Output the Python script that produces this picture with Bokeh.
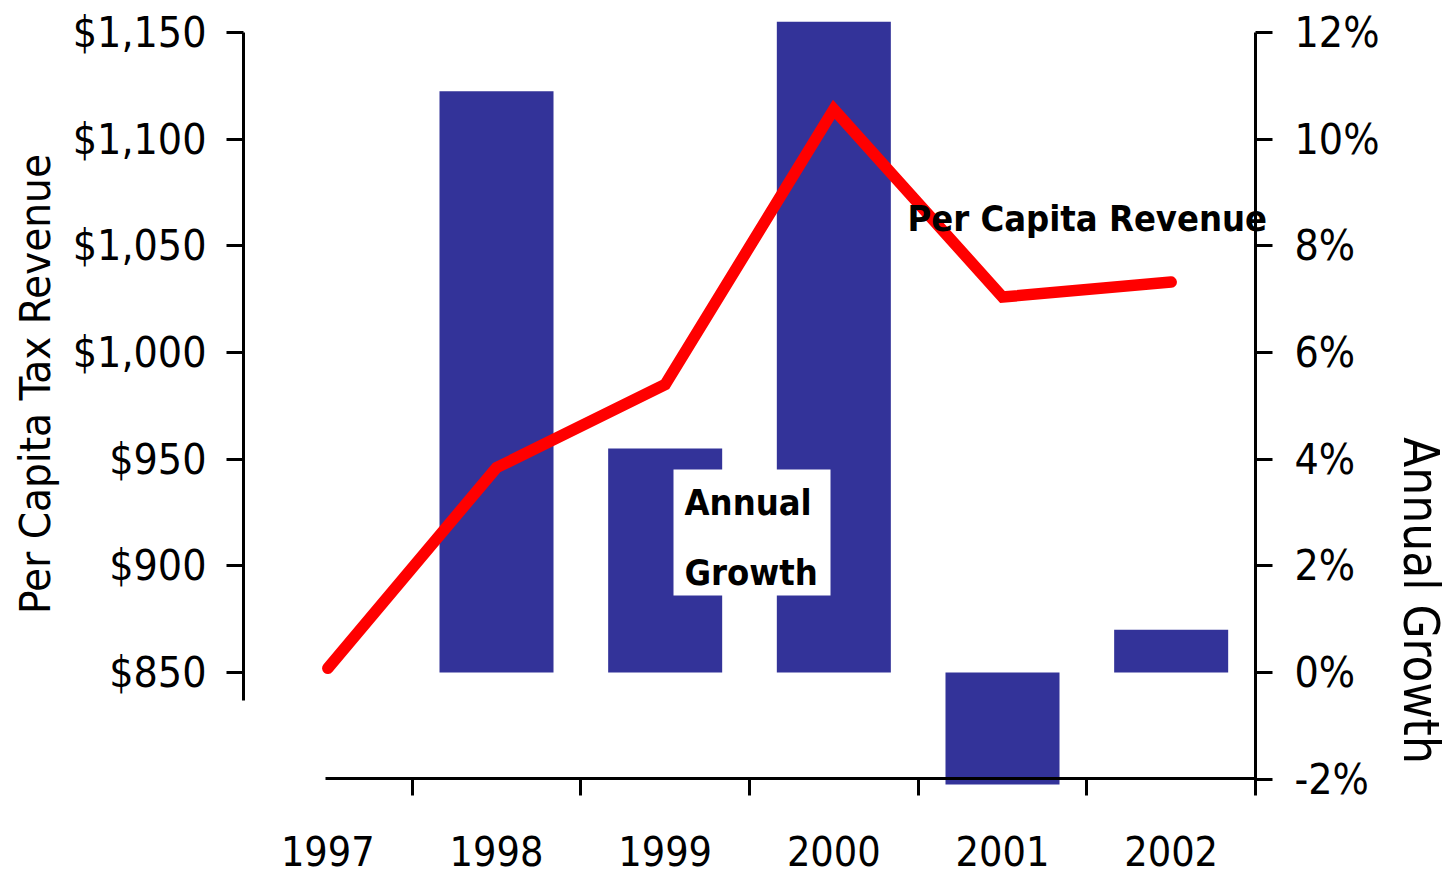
import math
from bokeh.plotting import figure
from bokeh.models import (Range1d, LinearAxis, FixedTicker, NumeralTickFormatter,
                          PrintfTickFormatter, Label, BoxAnnotation)
from bokeh.embed import file_html
from bokeh.resources import INLINE

# ---------------- data ----------------
years = ["1997", "1998", "1999", "2000", "2001", "2002"]
revenue = [852, 946, 985, 1114, 1026, 1033]          # per capita tax revenue ($)
growth_years = ["1998", "1999", "2000", "2001", "2002"]
growth = [10.9, 4.2, 12.2, -2.1, 0.8]                  # annual growth (%)
revenue_ticks = [850, 900, 950, 1000, 1050, 1100, 1150]
growth_ticks = [-2, 0, 2, 4, 6, 8, 10, 12]

# ---------------- layout (pixel geometry of the page) ----------------
W, H = 1450, 876
AX_L, AX_R = 243, 1255               # left / right value axes (px)
PPD = 640.0 / 300.0                  # px per dollar
PPP = 640.0 / 12.0                   # px per percent
Y_ZERO = 672                         # px of $850 / 0%
PPC = (AX_R - AX_L) / len(years)     # px per category

def px2x(px):
    return (px - AX_L) / PPC

def py2y(py):
    return 850 + (Y_ZERO - py) / PPD

def py2g(py):
    return (Y_ZERO - py) / PPP

xs = [i + 0.5 for i in range(len(years))]
gx = [years.index(y) + 0.5 for y in growth_years]

FONT = "DejaVu Sans Condensed, DejaVu Sans, sans-serif"

p = figure(width=W, height=H, output_backend="svg", toolbar_location=None,
           x_range=Range1d(px2x(0), px2x(W)), y_range=Range1d(py2y(H), py2y(0)),
           x_axis_location=None, y_axis_location=None, min_border=0)
p.extra_y_ranges = {"growth": Range1d(py2g(H), py2g(0))}
p.grid.visible = False
p.outline_line_color = None
p.background_fill_color = "white"
p.border_fill_color = "white"

# bars (annual growth)
p.vbar(x=gx, top=growth, bottom=0, width=0.676, y_range_name="growth",
       fill_color="#333399", line_color=None)

# line (per capita revenue)
p.line(x=xs, y=revenue, line_color="#FF0000", line_width=11.5,
       line_cap="round", line_join="miter")

def style_axis(ax, size):
    ax.axis_line_width = 3
    ax.axis_line_color = "black"
    ax.major_tick_line_width = 3
    ax.major_tick_line_color = "black"
    ax.major_tick_out = 17
    ax.major_tick_in = 0
    ax.minor_tick_line_color = None
    ax.major_label_text_font = FONT
    ax.major_label_text_font_size = size
    ax.major_label_text_color = "black"

# left axis
yl = LinearAxis(ticker=FixedTicker(ticks=revenue_ticks),
                formatter=NumeralTickFormatter(format="$0,0"),
                fixed_location=0, bounds=(py2y(700), 1150))
style_axis(yl, "42.5px")
yl.major_label_standoff = 20
p.add_layout(yl, "left")

# right axis
yr = LinearAxis(y_range_name="growth", ticker=FixedTicker(ticks=growth_ticks),
                formatter=PrintfTickFormatter(format="%d%%"),
                fixed_location=len(years), bounds=(-2, 12))
style_axis(yr, "42.5px")
yr.major_label_standoff = 22
p.add_layout(yr, "right")

# x axis: labels at category centers, ticks at category boundaries
xa = LinearAxis(ticker=FixedTicker(ticks=xs, minor_ticks=[i + 1 for i in range(len(years))]),
                major_label_overrides={x: y for x, y in zip(xs, years)},
                fixed_location=py2y(778), bounds=(px2x(325), len(years)))
style_axis(xa, "41px")
xa.major_tick_line_color = None
xa.major_tick_out = 0
xa.minor_tick_line_color = "black"
xa.minor_tick_line_width = 3
xa.minor_tick_out = 17
xa.minor_tick_in = 0
xa.major_label_standoff = 40
p.add_layout(xa, "below")

# axis titles
p.add_layout(Label(x=px2x(34.5), y=py2y(383.5), text="Per Capita Tax Revenue",
                   angle=math.pi / 2, text_align="center", text_baseline="middle",
                   text_font=FONT, text_font_size="43.5px", text_color="black"))
p.add_layout(Label(x=px2x(1420), y=py2y(600), text="Annual Growth",
                   angle=-math.pi / 2, text_align="center", text_baseline="middle",
                   text_font=FONT, text_font_size="49px", text_color="black"))

# series labels
p.add_layout(Label(x=px2x(907), y=py2y(217.5), text="Per Capita Revenue",
                   text_align="left", text_baseline="middle",
                   text_font=FONT, text_font_size="36px", text_font_style="bold",
                   text_color="black"))
p.add_layout(BoxAnnotation(left=px2x(673), right=px2x(830), top=py2y(469), bottom=py2y(595),
                           fill_color="white", fill_alpha=1.0, line_color=None))
p.add_layout(Label(x=px2x(684), y=py2y(501.5), text="Annual",
                   text_align="left", text_baseline="middle",
                   text_font=FONT, text_font_size="36px", text_font_style="bold",
                   text_color="black"))
p.add_layout(Label(x=px2x(684), y=py2y(571.5), text="Growth",
                   text_align="left", text_baseline="middle",
                   text_font=FONT, text_font_size="36px", text_font_style="bold",
                   text_color="black"))

open("out.html", "w").write(file_html(p, INLINE))
